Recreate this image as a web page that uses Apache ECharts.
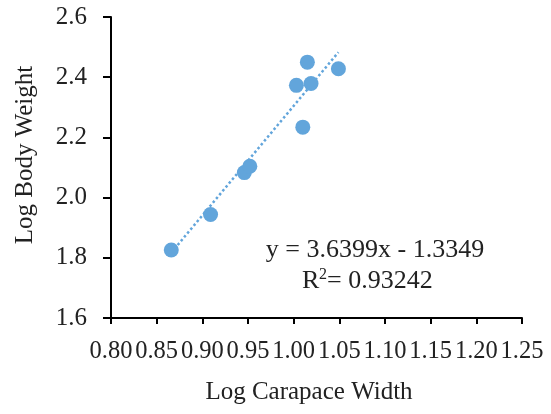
<!DOCTYPE html>
<html><head><meta charset="utf-8">
<script src="https://cdn.jsdelivr.net/npm/echarts@6/dist/echarts.min.js"></script>
<style>html,body{margin:0;padding:0;background:#fff}#c{width:551px;height:414px}</style>
</head><body><div id="c"></div>
<script>
const logCarapaceWidth = [0.866, 0.909, 0.946, 0.952, 1.010, 1.003, 1.019, 1.015, 1.049];
const logBodyWeight   = [1.826, 1.944, 2.083, 2.104, 2.234, 2.373, 2.379, 2.450, 2.428];
const trendX = [0.866, 1.049];
const trendY = [1.817, 2.483];
const xTicks = [0.80, 0.85, 0.90, 0.95, 1.00, 1.05, 1.10, 1.15, 1.20, 1.25];
const yTicks = [1.6, 1.8, 2.0, 2.2, 2.4, 2.6];
const equationText = 'y = 3.6399x - 1.3349';
const r2Text = '0.93242';

const font = '"Liberation Serif", "Times New Roman", serif';
const blue = '#62a5db';
const txt = '#222';
const chart = echarts.init(document.getElementById('c'), null, {renderer: 'canvas'});
chart.setOption({
  animation: false,
  grid: {left: 111, right: 29, top: 17, bottom: 96},
  xAxis: {
    type: 'value', min: xTicks[0], max: xTicks[xTicks.length - 1], interval: 0.05,
    axisLine: {lineStyle: {color: '#000', width: 2}},
    axisTick: {show: true, length: 6, lineStyle: {color: '#000', width: 2}},
    splitLine: {show: false},
    axisLabel: {fontFamily: font, fontSize: 24.5, color: txt, margin: 21,
      formatter: v => v.toFixed(2)}
  },
  yAxis: {
    type: 'value', min: yTicks[0], max: yTicks[yTicks.length - 1], interval: 0.2,
    axisLine: {show: true, lineStyle: {color: '#000', width: 2}},
    axisTick: {show: true, length: 8, lineStyle: {color: '#000', width: 2}},
    splitLine: {show: false},
    axisLabel: {fontFamily: font, fontSize: 25, color: txt, margin: 24,
      formatter: v => v.toFixed(1)}
  },
  graphic: [
    {type: 'text', x: 309, y: 392, style: {text: 'Log Carapace Width', fontFamily: font, fontSize: 25, fill: txt, align: 'center', verticalAlign: 'middle'}},
    {type: 'text', x: 25, y: 155, rotation: Math.PI / 2, style: {text: 'Log Body Weight', fontFamily: font, fontSize: 25, fill: txt, align: 'center', verticalAlign: 'middle'}},
    {type: 'text', x: 375, y: 250, style: {text: equationText, fontFamily: font, fontSize: 26, fill: txt, align: 'center', verticalAlign: 'middle'}},
    {type: 'text', x: 302, y: 281, style: {text: 'R', fontFamily: font, fontSize: 26, fill: txt, align: 'left', verticalAlign: 'middle'}},
    {type: 'text', x: 319, y: 275, style: {text: '2', fontFamily: font, fontSize: 16, fill: txt, align: 'left', verticalAlign: 'middle'}},
    {type: 'text', x: 327, y: 281, style: {text: '= ' + r2Text, fontFamily: font, fontSize: 26, fill: txt, align: 'left', verticalAlign: 'middle'}}
  ],
  series: [
    {type: 'line', data: trendX.map((x, i) => [x, trendY[i]]), symbol: 'none', silent: true,
      lineStyle: {color: blue, width: 2.5, type: [2.5, 2.5]}, z: 1},
    {type: 'scatter', data: logCarapaceWidth.map((x, i) => [x, logBodyWeight[i]]),
      symbolSize: 15, itemStyle: {color: blue, opacity: 1}, z: 2}
  ]
});
</script></body></html>
